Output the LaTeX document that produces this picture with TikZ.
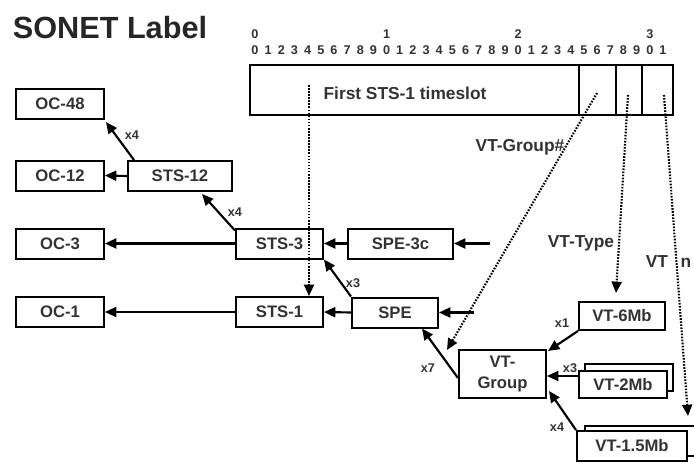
\documentclass[tikz,border=0pt]{standalone}
\usepackage{fontspec}
\setmainfont{Liberation Sans}
\usetikzlibrary{arrows.meta,calc}
\begin{document}
\begin{tikzpicture}[x=0.75pt,y=-0.75pt,
  box/.style={draw,line width=1.5pt,fill=white,inner sep=0pt,minimum height=22.5pt,
    font=\fontsize{12.5}{13}\selectfont\bfseries,text=black!80},
  conn/.style={line width=1.6pt,-{Triangle[length=8.5pt,width=7.5pt]}},
  dotconn/.style={line width=1.6pt,dash pattern=on 1.2pt off 1.1pt,-{Triangle[length=8.5pt,width=7.5pt]}},
  lbl/.style={font=\fontsize{9.5}{10}\selectfont\bfseries,text=black!80,inner sep=0pt},
  big/.style={font=\fontsize{13}{14}\selectfont\bfseries,text=black!80,inner sep=0pt},
  dig/.style={font=\fontsize{9.5}{10}\selectfont\bfseries,text=black!80,inner sep=0pt}]
\useasboundingbox (0,0) rectangle (694,468);
\clip (0,0) rectangle (694,468);
\fill[white] (0,0) rectangle (694,468);

% title
\node[font=\fontsize{23}{24}\selectfont\bfseries,text=black!85,inner sep=0pt] (title) at (110,28) {SONET Label};

% bit numbers
\foreach \t in {0,1,2,3} {
  \node[dig] (t\t) at ({255+10*\t*13.16},34) {\t};
}
\foreach \i in {0,...,31} {
  \pgfmathtruncatemacro{\d}{mod(\i,10)}
  \node[dig] (d\i) at ({255+\i*13.16},50) {\d};
}

% frame
\node[draw,line width=1.5pt,minimum width=317.25pt,minimum height=37.5pt,inner sep=0pt] (frame) at (461.5,90) {};
\draw[line width=1.5pt] (579,65) -- (579,115);
\draw[line width=1.5pt] (616,65) -- (616,115);
\draw[line width=1.5pt] (642,65) -- (642,115);
\node[big] (first) at (405,93) {First STS-1 timeslot};

% boxes
\node[box,minimum width=66pt] (OC48) at (60,104) {OC-48};
\node[box,minimum width=66pt] (OC12) at (60,175.5) {OC-12};
\node[box,minimum width=66pt] (OC3) at (60,243.5) {OC-3};
\node[box,minimum width=66pt] (OC1) at (60,312) {OC-1};
\node[box,minimum width=78pt] (STS12) at (180,176) {STS-12};
\node[box,minimum width=65.25pt] (STS3) at (279.5,243.5) {STS-3};
\node[box,minimum width=65.25pt] (STS1) at (279.5,312) {STS-1};
\node[box,minimum width=78.75pt] (SPE3c) at (400.5,243.5) {SPE-3c};
\node[box,minimum width=64.5pt] (SPE) at (395,312.5) {SPE};
\node[box,minimum width=65.25pt,minimum height=36pt,align=center,
  font=\fontsize{12.5}{15.5}\selectfont\bfseries] (VTG) at (502.5,374) {VT-\\Group};
\node[box,minimum width=64.5pt,minimum height=21pt] (VT6) at (622,316) {VT-6Mb};
\node[draw,line width=1.5pt,minimum width=66pt,minimum height=20.25pt,inner sep=0pt] (VT2b) at (629,377) {};
\node[box,minimum width=66pt,minimum height=20.25pt] (VT2) at (623,384.5) {VT-2Mb};
\node[draw,line width=1.5pt,minimum width=90pt,minimum height=22.5pt,inner sep=0pt] (VT15b) at (645,441) {};
\node[box,minimum width=82.5pt] (VT15) at (632,446) {VT-1.5Mb};

% solid connectors
\draw[conn] (STS12.west) -- (OC12.east);
\draw[conn] ($(STS12.north west)+(7,0)$) -- ($(OC48.south east)+(1,2)$);
\node[lbl] (x4a) at (132,135) {x4};
\draw[conn] ($(STS3.north west)+(0,3)$) -- ($(STS12.south)+(22,2)$);
\node[lbl] (x4b) at (235,212) {x4};
\draw[conn] (STS3.west) -- (OC3.east);
\draw[conn] (SPE3c.west) -- (STS3.east);
\coordinate (in3c) at (490,243.5);
\draw[conn] (in3c) -- (SPE3c.east);
\draw[conn] (SPE.north west) -- (STS3.south east);
\node[lbl] (x3a) at (353,283) {x3};
\draw[conn] (SPE.west) -- (STS1.east);
\draw[conn] (STS1.west) -- (OC1.east);
\coordinate (inspe) at (474,312.5);
\draw[conn] (inspe) -- (SPE.east);
\draw[conn] ($(VTG.west)+(0,4)$) -- ($(SPE.south)+(27,0)$);
\node[lbl] (x7) at (428,368) {x7};
\draw[conn] (VT6.south west) -- ($(VTG.north east)+(1,2)$);
\node[lbl] (x1) at (562,323) {x1};
\draw[conn] ($(VT2.west)+(0,-8.5)$) -- ($(VTG.east)+(0,2)$);
\node[lbl] (x3b) at (570,368) {x3};
\draw[conn] (VT15.north west) -- ($(VTG.south east)+(2,-8)$);
\node[lbl] (x4c) at (557,427) {x4};

% dotted connectors
\coordinate (s1) at (309,85);
\draw[dotconn] (s1) -- (s1 |- STS1.north);
\coordinate (s2) at (597,93);
\coordinate (e2) at (447,350);
\draw[dotconn] (s2) -- (e2);
\node[big] (vtgn) at (520,147) {VT-Group\#};
\coordinate (s3) at (628,95);
\coordinate (e3) at (616,293);
\draw[dotconn] (s3) -- (e3);
\node[big] (vttype) at (581,243) {VT-Type};
\coordinate (s4) at (664,95);
\coordinate (e4) at (688,416);
\draw[dotconn] (s4) -- (e4);
\node[big] (vtn) at (657,262) {VT};
\node[big] (vtnn) at (686,263) {n};
\end{tikzpicture}
\end{document}
